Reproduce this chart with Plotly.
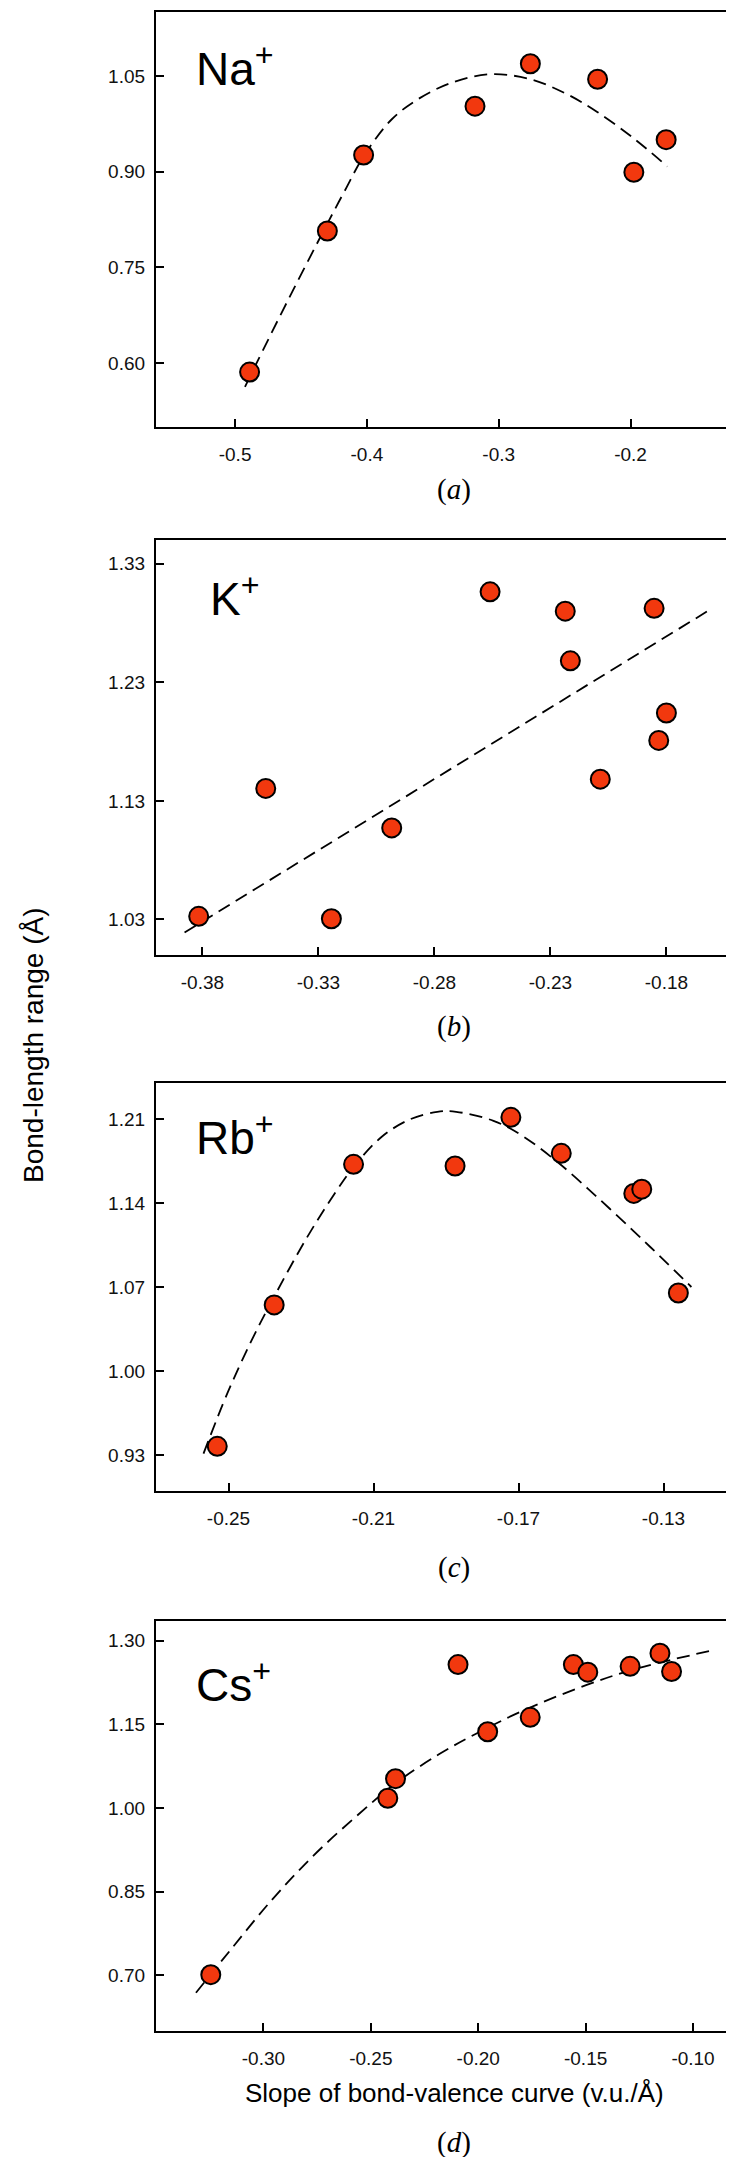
import plotly.graph_objects as go

# ---------------- data ----------------
na_x = [-0.489, -0.430, -0.4025, -0.318, -0.276, -0.225, -0.1975, -0.173]
na_y = [0.586, 0.807, 0.926, 1.0025, 1.069, 1.0446, 0.899, 0.950]
na_fit_x = [-0.4925, -0.4739, -0.4561, -0.4304, -0.4168, -0.4025, -0.3811, -0.3596,
            -0.3346, -0.3061, -0.2764, -0.2489, -0.2250, -0.1975, -0.1721]
na_fit_y = [0.563, 0.641, 0.714, 0.817, 0.870, 0.924, 0.982, 1.0155,
            1.040, 1.0525, 1.045, 1.022, 0.993, 0.952, 0.908]

k_x = [-0.3816, -0.3527, -0.3244, -0.2984, -0.256, -0.2236, -0.2214, -0.2085, -0.1853, -0.1833, -0.180]
k_y = [1.0326, 1.1405, 1.0306, 1.1072, 1.3063, 1.290, 1.2481, 1.1483, 1.2924, 1.181, 1.2041]
k_fit_x = [-0.3877, -0.162]
k_fit_y = [1.019, 1.2903]

rb_x = [-0.2531, -0.2374, -0.2155, -0.1875, -0.1721, -0.1582, -0.1382, -0.1360, -0.1259]
rb_y = [0.9372, 1.0551, 1.1722, 1.1708, 1.2114, 1.1814, 1.148, 1.1515, 1.065]
rb_fit_x = [-0.2569, -0.2503, -0.2438, -0.2374, -0.2284, -0.2207, -0.2155, -0.2078, -0.2001,
            -0.1924, -0.1872, -0.1769, -0.1692, -0.1590, -0.1487, -0.1384, -0.1306, -0.1223]
rb_fit_y = [0.9312, 0.9815, 1.0245, 1.0620, 1.1110, 1.1480, 1.1700, 1.1950, 1.2095,
            1.2160, 1.2160, 1.2085, 1.1965, 1.1735, 1.1460, 1.1170, 1.0945, 1.0700]

cs_x = [-0.3245, -0.2421, -0.2385, -0.2094, -0.1956, -0.1758, -0.1557, -0.149, -0.1293, -0.1154, -0.110]
cs_y = [0.701, 1.0173, 1.0524, 1.2569, 1.1364, 1.1623, 1.2569, 1.2433, 1.2538, 1.2772, 1.2445]
cs_fit_x = [-0.3314, -0.3158, -0.2963, -0.2768, -0.2573, -0.2385, -0.2183, -0.2010,
            -0.1793, -0.1498, -0.1295, -0.1100, -0.0905]
cs_fit_y = [0.6686, 0.7430, 0.8340, 0.9140, 0.9830, 1.0440, 1.0960, 1.1330,
            1.1740, 1.2200, 1.2460, 1.2655, 1.2827]

na_xticks = [-0.5, -0.4, -0.3, -0.2]
na_xlabels = ["-0.5", "-0.4", "-0.3", "-0.2"]
na_yticks = [0.60, 0.75, 0.90, 1.05]
k_xticks = [-0.38, -0.33, -0.28, -0.23, -0.18]
k_xlabels = ["-0.38", "-0.33", "-0.28", "-0.23", "-0.18"]
k_yticks = [1.03, 1.13, 1.23, 1.33]
rb_xticks = [-0.25, -0.21, -0.17, -0.13]
rb_xlabels = ["-0.25", "-0.21", "-0.17", "-0.13"]
rb_yticks = [0.93, 1.00, 1.07, 1.14, 1.21]
cs_xticks = [-0.30, -0.25, -0.20, -0.15, -0.10]
cs_xlabels = ["-0.30", "-0.25", "-0.20", "-0.15", "-0.10"]
cs_yticks = [0.70, 0.85, 1.00, 1.15, 1.30]

ions = ["Na<sup>+</sup>", "K<sup>+</sup>", "Rb<sup>+</sup>", "Cs<sup>+</sup>"]
panel_labels = ["(<i>a</i>)", "(<i>b</i>)", "(<i>c</i>)", "(<i>d</i>)"]
x_title = "Slope of bond-valence curve (v.u./Å)"
y_title = "Bond-length range (Å)"

# ---------------- layout geometry (pixels) ----------------
W, H = 734, 2157
left_px, right_px = 148, 728
panels_px = [(4, 419), (532, 947), (1075, 1483), (1613, 2023)]
xranges = [[-0.56, -0.12], [-0.40, -0.15], [-0.27, -0.11], [-0.35, -0.08]]
yranges = [[0.50, 1.15], [1.00, 1.35], [0.90, 1.24], [0.60, 1.335]]
ion_left_px = [186, 200, 186, 186]
ion_bottom_px = [89, 619, 1158, 1705]
label_y_px = [482, 1019, 1559, 2134]

MARK = "#F2380E"
FONT = "Liberation Sans, Arial, sans-serif"
SERIF = "Liberation Serif, Times New Roman, serif"

data_sets = [
    (na_x, na_y, na_fit_x, na_fit_y, na_xticks, na_xlabels, na_yticks),
    (k_x, k_y, k_fit_x, k_fit_y, k_xticks, k_xlabels, k_yticks),
    (rb_x, rb_y, rb_fit_x, rb_fit_y, rb_xticks, rb_xlabels, rb_yticks),
    (cs_x, cs_y, cs_fit_x, cs_fit_y, cs_xticks, cs_xlabels, cs_yticks),
]

fig = go.Figure()
layout = dict(
    width=W, height=H,
    margin=dict(l=0, r=0, t=0, b=0),
    paper_bgcolor="white", plot_bgcolor="white",
    showlegend=False,
    font=dict(family=FONT, color="black"),
)
annotations = []

for i, (px, py, fx, fy, xt, xl, yt) in enumerate(data_sets):
    n = "" if i == 0 else str(i + 1)
    xa, ya = "x" + n, "y" + n
    fig.add_trace(go.Scatter(x=fx, y=fy, mode="lines", xaxis=xa, yaxis=ya,
                             line=dict(color="black", width=1.8, dash="13px,7px",
                                       shape="spline", smoothing=1.0),
                             hoverinfo="skip"))
    fig.add_trace(go.Scatter(x=px, y=py, mode="markers", xaxis=xa, yaxis=ya,
                             marker=dict(size=19, color=MARK, line=dict(color="black", width=2))))
    top, bot = panels_px[i]
    ydom = [1 - bot / H, 1 - top / H]
    xdom = [left_px / W, right_px / W]
    common = dict(showline=True, linecolor="black", linewidth=2.2, mirror=True,
                  ticks="inside", ticklen=8, tickwidth=1.8, tickcolor="black",
                  showgrid=False, zeroline=False, automargin=False,
                  tickfont=dict(size=19, family=FONT, color="#111"))
    layout["xaxis" + n] = dict(domain=xdom, range=xranges[i], anchor=ya,
                               tickvals=xt, ticktext=xl, ticklabelstandoff=9, **common)
    layout["yaxis" + n] = dict(domain=ydom, range=yranges[i], anchor=xa,
                               tickvals=yt, tickformat=".2f", ticklabelstandoff=5, **common)
    annotations.append(dict(text=ions[i], xref="paper", yref="paper",
                            x=ion_left_px[i] / W, y=1 - ion_bottom_px[i] / H,
                            xanchor="left", yanchor="bottom",
                            showarrow=False, font=dict(size=46, family=FONT, color="black")))
    annotations.append(dict(text=panel_labels[i], xref="paper", yref="paper",
                            x=446 / W, y=1 - label_y_px[i] / H, xanchor="center", yanchor="middle",
                            showarrow=False, font=dict(size=29, family=SERIF, color="black")))

annotations.append(dict(text=x_title, xref="paper", yref="paper", x=446 / W, y=1 - 2085 / H,
                        xanchor="center", yanchor="middle", showarrow=False,
                        font=dict(size=26, family=FONT, color="black")))
annotations.append(dict(text=y_title, xref="paper", yref="paper", x=25 / W, y=1 - 1037 / H,
                        xanchor="center", yanchor="middle", textangle=-90, showarrow=False,
                        font=dict(size=28, family=FONT, color="black")))
layout["annotations"] = annotations
fig.update_layout(**layout)
fig.write_html("out.html")
